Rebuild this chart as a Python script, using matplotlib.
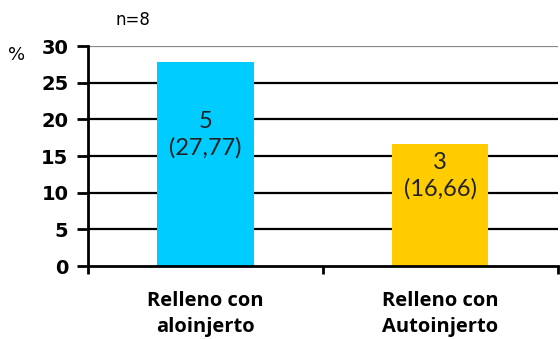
import matplotlib
matplotlib.use("Agg")
import matplotlib.pyplot as plt

categories = ["Relleno con\naloinjerto", "Relleno con\nAutoinjerto"]
counts = [5, 3]
percents = [27.77, 16.66]
colors = ["#00CCFF", "#FFCC00"]
yticks = [0, 5, 10, 15, 20, 25, 30]
n_total = 8

fig = plt.figure(figsize=(5.6, 3.39), dpi=100)
ax = fig.add_axes([0.157, 0.215, 0.839, 0.649])

x = [0, 1]
ax.set_xlim(-0.5, 1.5)
ax.set_ylim(0, 30)

# horizontal gridlines
for t in yticks[1:-1]:
    ax.axhline(t, color="black", lw=1.6, zorder=1)
ax.axhline(30, color="#888888", lw=1.6, zorder=1)

ax.bar(x, percents, width=0.41, color=colors, zorder=2)

for xi, c, p in zip(x, counts, percents):
    lbl = f"{c}\n({p:.2f})".replace(".", ",")
    ax.text(xi, p / 2 + 4, lbl, ha="center", va="center", fontsize=17,
            family="Lato", color="#222222", linespacing=1.3, zorder=3)

for s in ["top", "right"]:
    ax.spines[s].set_visible(False)
ax.spines["left"].set_linewidth(2)
ax.spines["bottom"].set_linewidth(2)

ax.set_yticks(yticks)
ax.set_yticklabels([str(t) for t in yticks], fontsize=14, fontweight="bold")
ax.tick_params(axis="y", length=8, width=2, pad=6)

# category boundaries carry the x ticks
ax.set_xticks([-0.5, 0.5, 1.5])
ax.set_xticklabels([])
ax.tick_params(axis="x", length=6, width=2, direction="out")
for xi, cat in zip(x, categories):
    ax.text(xi, -0.115, cat, transform=ax.get_xaxis_transform(), ha="center",
            va="top", fontsize=14.5, fontweight="bold", family="Open Sans",
            linespacing=1.35)

fig.text(8 / 560, 1 - 55 / 339, "%", fontsize=13, ha="left", va="center")
fig.text(133 / 560, 1 - 20 / 339, f"n={n_total}", fontsize=12, ha="center",
         va="center")

fig.savefig("out.png", dpi=100)
